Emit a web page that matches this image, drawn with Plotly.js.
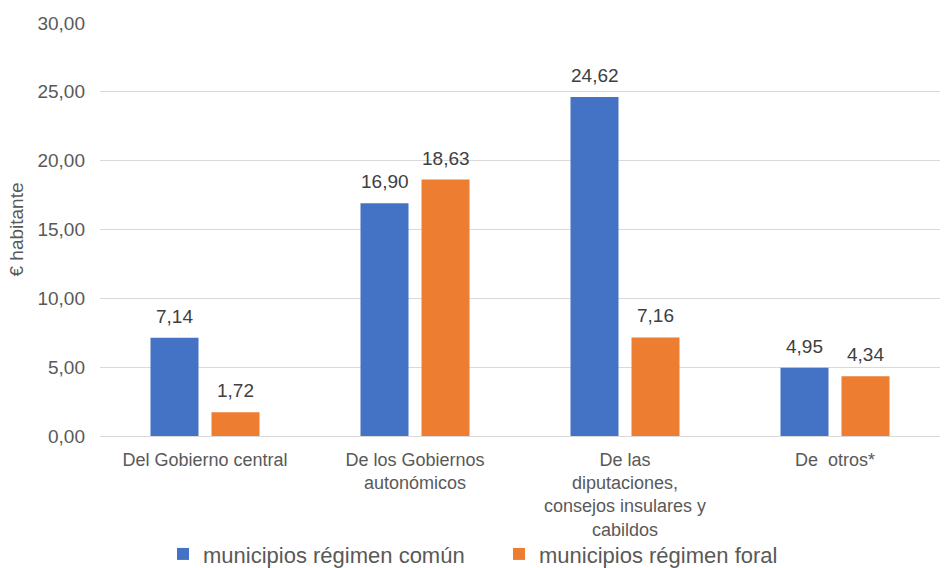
<!DOCTYPE html>
<html>
<head>
<meta charset="utf-8">
<script src="https://cdn.plot.ly/plotly-3.0.1.min.js"></script>
<style>html,body{margin:0;padding:0;background:#fff;}#chart{width:946px;height:568px;}</style>
</head>
<body>
<div id="chart"></div>
<script>
const categories = [
  "Del Gobierno central",
  "De los Gobiernos<br>autonómicos",
  "De las<br>diputaciones,<br>consejos insulares y<br>cabildos",
  "De  otros*"
];
const seriesNames = ["municipios régimen común", "municipios régimen foral"];
const comun = [7.14, 16.90, 24.62, 4.95];
const foral = [1.72, 18.63, 7.16, 4.34];
const yTicks = [0, 5, 10, 15, 20, 25, 30];

const colors = ["#4472C4", "#ED7D31"];
const font = "Liberation Sans, Arial, sans-serif";
const txtColor = "#595959";

const traces = [comun, foral].map((vals, k) => ({
  type: "bar",
  name: seriesNames[k],
  x: categories,
  y: vals,
  marker: {color: colors[k]},
  hoverinfo: "skip"
}));

const fmt = v => v.toFixed(2).replace(".", ",");
const annotations = [];
[comun, foral].forEach((vals, k) => {
  vals.forEach((v, i) => {
    annotations.push({
      x: categories[i], y: v, xref: "x", yref: "y",
      xshift: k === 0 ? -30.5 : 30.5, yshift: 9,
      yanchor: "bottom", showarrow: false,
      text: fmt(v),
      font: {family: font, size: 19, color: "#404040"}
    });
  });
});

const layout = {
  width: 946, height: 568,
  margin: {l: 100, r: 6, t: 23, b: 132, autoexpand: false},
  paper_bgcolor: "#fff", plot_bgcolor: "#fff",
  separators: ",.",
  bargap: 0.419, bargroupgap: 0.213,
  font: {family: font, color: txtColor},
  xaxis: {
    type: "category", automargin: false,
    tickfont: {family: font, size: 18, color: txtColor},
    showline: true, linecolor: "#d9d9d9", linewidth: 1,
    ticks: "", showgrid: false,
    ticklabelstandoff: 7
  },
  yaxis: {
    range: [0, 30], tickvals: yTicks, tickformat: ".2f", automargin: false,
    tickfont: {family: font, size: 19, color: txtColor},
    showgrid: true, gridcolor: "#d9d9d9", gridwidth: 1,
    zeroline: false, showline: false, ticks: "",
    ticklabelstandoff: 14,
    title: {text: "€ habitante", font: {family: font, size: 19, color: txtColor}, standoff: 8}
  },
  showlegend: true,
  legend: {
    orientation: "h", x: 0.075, xanchor: "left", y: -0.286, yanchor: "middle",
    bgcolor: "rgba(0,0,0,0)", borderwidth: 0,
    font: {family: font, size: 22, color: txtColor},
    entrywidth: 291, entrywidthmode: "pixels",
    traceorder: "normal"
  },
  annotations: annotations
};

Plotly.newPlot("chart", traces, layout, {displayModeBar: false, staticPlot: true});
</script>
</body>
</html>
